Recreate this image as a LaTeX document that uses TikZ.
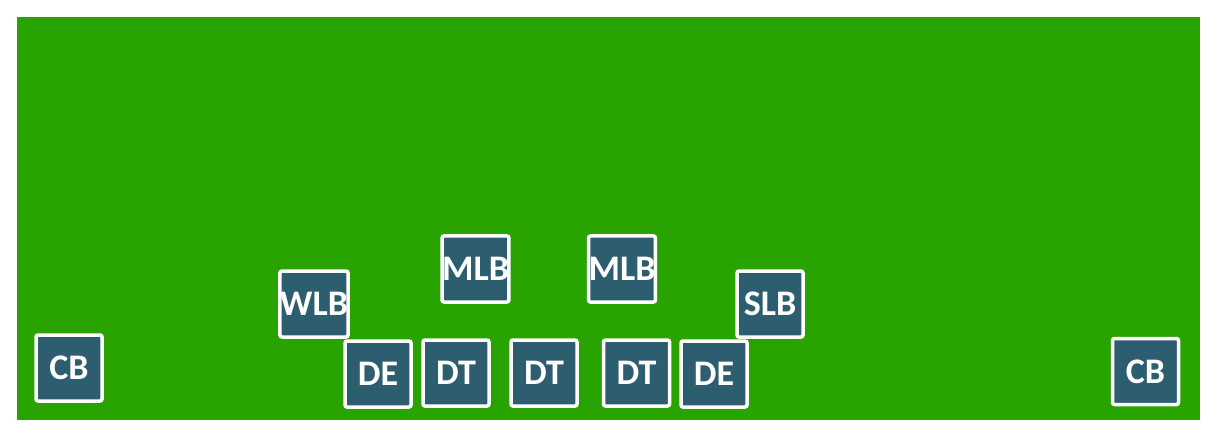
\documentclass[tikz,border=0pt]{standalone}
\usepackage{fontspec}
\setmainfont{Carlito}
\definecolor{field}{RGB}{41,163,0}
\definecolor{player}{RGB}{45,94,112}
\tikzset{
  pl/.style={draw=white, line width=3.5pt, fill=player, rounded corners=2pt,
    minimum width=66pt, minimum height=66pt, inner sep=0pt,
    text=white, font=\fontsize{36}{36}\selectfont\bfseries}
}
\begin{document}
\begin{tikzpicture}[x=1pt,y=-1pt]
\useasboundingbox (0,0) rectangle (1217,438);
\fill[white] (0,0) rectangle (1217,438);
\fill[field] (17,17) rectangle (1200,420);
\node[pl] (cbl) at (69,368) {CB};
\node[pl] (wlb) at (314,304) {WLB};
\node[pl] (mlb1) at (475.5,269) {MLB};
\node[pl] (mlb2) at (622,269) {MLB};
\node[pl] (slb) at (770,304) {SLB};
\node[pl] (de1) at (378,374) {DE};
\node[pl] (dt1) at (456,373) {DT};
\node[pl] (dt2) at (544,373) {DT};
\node[pl] (dt3) at (636.5,373) {DT};
\node[pl] (de2) at (714,374) {DE};
\node[pl] (cbr) at (1145.5,371.5) {CB};
\end{tikzpicture}
\end{document}
